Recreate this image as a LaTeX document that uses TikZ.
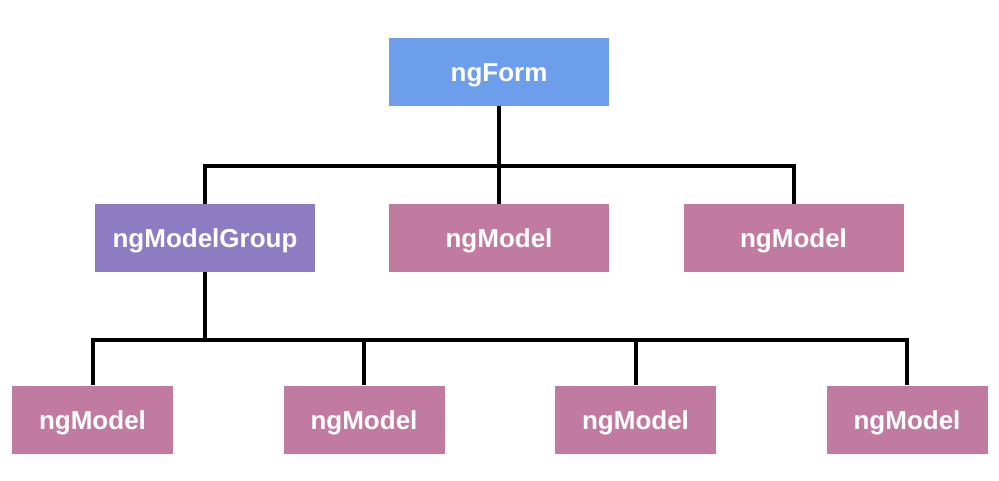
\documentclass[tikz,border=0pt]{standalone}
\usepackage{fontspec}
\setmainfont{Liberation Sans}
\definecolor{cblue}{HTML}{6D9EEB}
\definecolor{cpurple}{HTML}{8E7CC3}
\definecolor{cpink}{HTML}{C27BA0}
\tikzset{
  box/.style={rectangle, inner sep=0pt, text=white, text height=19.4pt, text depth=0pt, font=\fontsize{26}{30}\selectfont\bfseries},
  bigbox/.style={box, minimum width=220pt, minimum height=68pt},
  smallbox/.style={box, minimum width=161pt, minimum height=68pt},
  link/.style={line width=4pt, line join=miter, draw=black}
}
\begin{document}
\begin{tikzpicture}[x=1pt,y=-1pt]
\useasboundingbox[fill=white] (0,0) rectangle (999,480);
\node[bigbox, fill=cblue] (form) at (499,71.5) {ngForm};
\node[bigbox, fill=cpurple] (grp) at (205,238) {ngModelGroup};
\node[bigbox, fill=cpink] (m1) at (499,238) {ngModel};
\node[bigbox, fill=cpink] (m2) at (793.5,238) {ngModel};
\node[smallbox, fill=cpink] (b1) at (92.5,419.5) {ngModel};
\node[smallbox, fill=cpink] (b2) at (364,419.5) {ngModel};
\node[smallbox, fill=cpink] (b3) at (635.5,419.5) {ngModel};
\node[smallbox, fill=cpink] (b4) at (907,419.5) {ngModel};
\coordinate (j1) at (499,166);
\coordinate (j2) at (205,340);
\draw[link] (form.south) -- (j1);
\draw[link] (j1) -| (grp.north);
\draw[link] (j1) -- (m1.north);
\draw[link] (j1) -| (m2.north);
\draw[link] (grp.south) -- (j2);
\draw[link] (j2) -| (b1.north);
\draw[link] (j2) -| (b2.north);
\draw[link] (j2) -| (b3.north);
\draw[link] (j2) -| (b4.north);
\end{tikzpicture}
\end{document}
